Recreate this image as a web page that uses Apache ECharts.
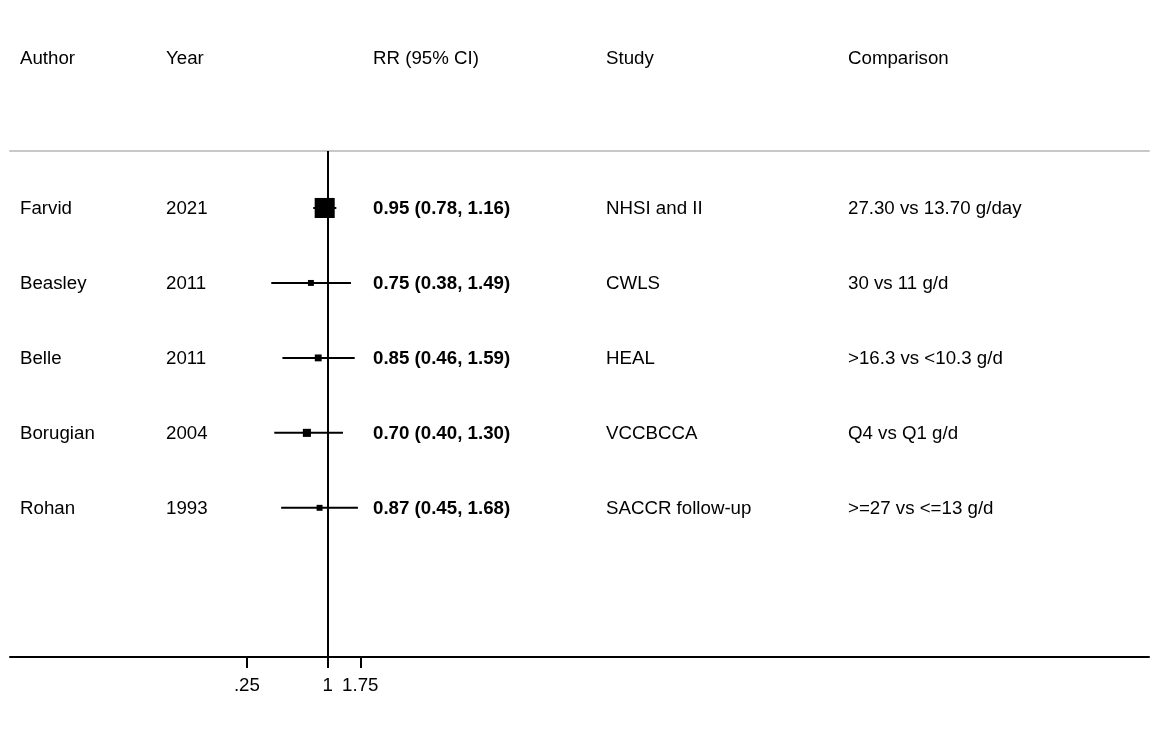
<!DOCTYPE html>
<html>
<head>
<meta charset="utf-8">
<script src="https://cdn.jsdelivr.net/npm/echarts@6/dist/echarts.min.js"></script>
<style>
  html, body { margin: 0; padding: 0; background: #fff; }
  #chart { width: 1171px; height: 740px; }
</style>
</head>
<body>
<div id="chart"></div>
<script>
// Study table and effect estimates
const headers = ['Author', 'Year', 'RR (95% CI)', 'Study', 'Comparison'];
const authors = ['Farvid', 'Beasley', 'Belle', 'Borugian', 'Rohan'];
const years = ['2021', '2011', '2011', '2004', '1993'];
const rr = [0.95, 0.75, 0.85, 0.70, 0.87];
const lower = [0.78, 0.38, 0.46, 0.40, 0.45];
const upper = [1.16, 1.49, 1.59, 1.30, 1.68];
const studies = ['NHSI and II', 'CWLS', 'HEAL', 'VCCBCCA', 'SACCR follow-up'];
const comparisons = ['27.30 vs 13.70 g/day', '30 vs 11 g/d', '>16.3 vs <10.3 g/d', 'Q4 vs Q1 g/d', '>=27 vs <=13 g/d'];
const weights = [68, 6, 8, 11, 6]; // study weights (%)
const tickValues = [0.25, 1, 1.75];
const tickLabels = ['.25', '1', '1.75'];

// Layout
const FONT = '"Liberation Sans", Arial, sans-serif';
const FS = 18.7;
const colX = [20, 166, 373, 606, 848];
const boxScale = 2.43;

const fmt = v => v.toFixed(2);
const rows = authors.map((a, i) => [
  a, years[i], `${fmt(rr[i])} (${fmt(lower[i])}, ${fmt(upper[i])})`, studies[i], comparisons[i]
]);

const forestData = rr.map((v, i) => [
  Math.log(lower[i]), Math.log(upper[i]), Math.log(v), i + 1, boxScale * Math.sqrt(weights[i])
]);

const tableData = [[0, -1]].concat(rows.map((r, i) => [0, i + 1]));
const lnTicks = tickValues.map(v => Math.log(v));

const chart = echarts.init(document.getElementById('chart'), null, { renderer: 'canvas' });

chart.setOption({
  animation: false,
  backgroundColor: '#ffffff',
  grid: { left: 10, right: 22, top: 151, bottom: 83, containLabel: false },
  xAxis: [
    {
      type: 'value',
      min: -5.45,
      max: 14.09,
      position: 'bottom',
      axisLine: { show: true, onZero: false, lineStyle: { color: '#000', width: 2 } },
      axisTick: { show: true, customValues: lnTicks, length: 11, lineStyle: { color: '#000', width: 2 } },
      axisLabel: {
        show: true,
        customValues: lnTicks,
        margin: 19,
        color: '#000',
        fontFamily: FONT,
        fontSize: FS,
        formatter: function (val) {
          let best = 0;
          lnTicks.forEach((t, k) => { if (Math.abs(t - val) < Math.abs(lnTicks[best] - val)) best = k; });
          return tickLabels[best];
        }
      },
      splitLine: { show: false }
    },
    {
      type: 'value',
      min: -5.45,
      max: 14.09,
      position: 'top',
      axisLine: { show: true, onZero: false, lineStyle: { color: '#c8c8c8', width: 2 } },
      axisTick: { show: false },
      axisLabel: { show: false },
      splitLine: { show: false }
    }
  ],
  yAxis: {
    type: 'value',
    inverse: true,
    min: 0.24,
    max: 6.99,
    show: false
  },
  series: [
    {
      type: 'custom',
      name: 'forest',
      xAxisIndex: 0,
      yAxisIndex: 0,
      data: forestData,
      encode: { x: [0, 1, 2], y: 3 },
      renderItem: function (params, api) {
        const row = api.value(3);
        const p1 = api.coord([api.value(0), row]);
        const p2 = api.coord([api.value(1), row]);
        const pc = api.coord([api.value(2), row]);
        const s = api.value(4);
        return {
          type: 'group',
          children: [
            {
              type: 'line',
              shape: { x1: p1[0], y1: p1[1], x2: p2[0], y2: p2[1] },
              style: { stroke: '#000', lineWidth: 2 }
            },
            {
              type: 'rect',
              shape: { x: pc[0] - s / 2, y: pc[1] - s / 2, width: s, height: s },
              style: { fill: '#000' }
            }
          ]
        };
      },
      markLine: {
        silent: true,
        symbol: 'none',
        label: { show: false },
        lineStyle: { color: '#000', width: 2, type: 'solid' },
        data: [{ xAxis: 0 }]
      }
    },
    {
      type: 'custom',
      name: 'table',
      xAxisIndex: 0,
      yAxisIndex: 0,
      clip: false,
      data: tableData,
      encode: { x: 0, y: 1 },
      renderItem: function (params, api) {
        const row = api.value(1);
        const y = api.coord([0, row])[1] + 1;
        const texts = row < 0 ? headers : rows[row - 1];
        return {
          type: 'group',
          children: texts.map((t, c) => ({
            type: 'text',
            style: {
              text: t,
              x: colX[c],
              y: y,
              fill: '#000',
              font: ((c === 2 && row > 0) ? 'bold ' : '') + FS + 'px ' + FONT,
              align: 'left',
              verticalAlign: 'middle'
            }
          }))
        };
      }
    }
  ]
});
</script>
</body>
</html>
